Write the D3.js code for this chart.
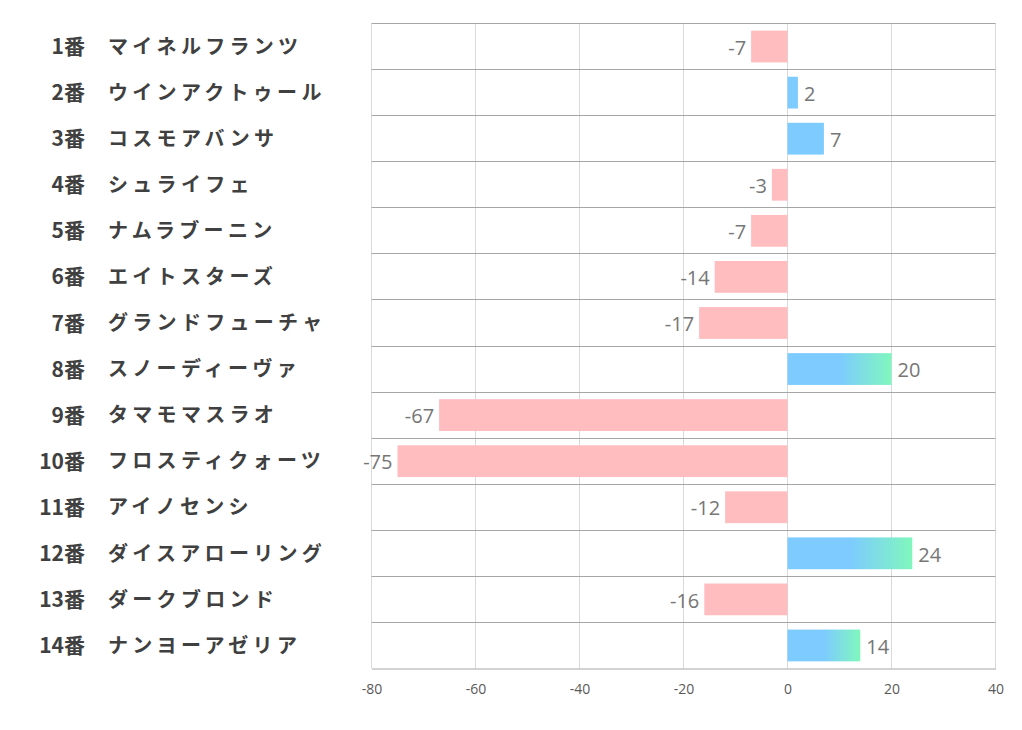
<!DOCTYPE html>
<html><head><meta charset="utf-8">
<script src="https://cdn.jsdelivr.net/npm/d3@7"></script>
<style>
body{margin:0;background:#fff;}
svg{display:block;}
</style></head>
<body><svg id="chart" width="1022" height="730"></svg>
<script>
const numbers = ["1番","2番","3番","4番","5番","6番","7番","8番","9番","10番","11番","12番","13番","14番"];
const names = ["マイネルフランツ","ウインアクトゥール","コスモアバンサ","シュライフェ","ナムラブーニン","エイトスターズ","グランドフューチャ","スノーディーヴァ","タマモマスラオ","フロスティクォーツ","アイノセンシ","ダイスアローリング","ダークブロンド","ナンヨーアゼリア"];
const values = [-7,2,7,-3,-7,-14,-17,20,-67,-75,-12,24,-16,14];
const xTicks = [-80,-60,-40,-20,0,20,40];

(function(){
const svg = d3.select("#chart");
const pL = 371.5, pR = 995.5, pT = 23.5, pB = 668.5;
const x = d3.scaleLinear().domain([-80,40]).range([pL,pR]);
const y = d3.scaleBand().domain(d3.range(values.length)).range([pT,pB]).paddingInner(0.31).paddingOuter(0.155);
const band = d3.scaleBand().domain(d3.range(values.length)).range([pT,pB]);

const defs = svg.append("defs");
const g = defs.append("linearGradient").attr("id","grad").attr("x1","0").attr("x2","1").attr("y1","0").attr("y2","0");
g.append("stop").attr("offset","0.5").attr("stop-color","#7dcbff");
g.append("stop").attr("offset","1").attr("stop-color","#80f7bd");

// vertical gridlines
svg.append("g").selectAll("line").data(xTicks).join("line")
  .attr("x1",d=>x(d)).attr("x2",d=>x(d)).attr("y1",pT).attr("y2",pB)
  .attr("stroke","#d9d9d9").attr("stroke-width",1);

// horizontal gridlines
const hl = d3.range(values.length).map(i=>band(i));
svg.append("g").selectAll("line").data(hl).join("line")
  .attr("x1",pL).attr("x2",pR).attr("y1",d=>Math.round(d-0.5)+0.5).attr("y2",d=>Math.round(d-0.5)+0.5)
  .attr("stroke","#a6a6a6").attr("stroke-width",1);

// bars
svg.append("g").selectAll("rect").data(values).join("rect")
  .attr("x",d=>x(Math.min(0,d)))
  .attr("width",d=>Math.abs(x(d)-x(0)))
  .attr("y",(d,i)=>y(i))
  .attr("height",y.bandwidth())
  .attr("fill",d=>d<0?"#ffbdc0":(d>=10?"url(#grad)":"#7dcbff"));

// bottom axis
const axis = svg.append("g").attr("transform",`translate(0,${pB})`)
  .call(d3.axisBottom(x).tickValues(xTicks).tickSize(0).tickPadding(16).tickFormat(d=>String(d)));
axis.select(".domain").attr("stroke","#a6a6a6");
axis.selectAll("text").attr("font-family","'Open Sans', 'Noto Sans', sans-serif").attr("font-size","14px").attr("fill","#595959");

// value labels
svg.append("g").selectAll("text").data(values).join("text")
  .attr("x",d=>d<0? x(d)-5 : x(d)+6)
  .attr("y",(d,i)=>y(i)+y.bandwidth()/2+1)
  .attr("dy","0.36em")
  .attr("text-anchor",d=>d<0?"end":"start")
  .attr("font-family","'Open Sans', 'Noto Sans', sans-serif")
  .attr("font-size","20px")
  .attr("fill","#767676")
  .text(d=>String(d));

// category labels
const lab = svg.append("g");
lab.selectAll("text.num").data(numbers).join("text").attr("class","num")
  .attr("x",85).attr("y",(d,i)=>y(i)+y.bandwidth()/2).attr("dy","0.36em")
  .attr("text-anchor","end")
  .attr("font-family","'Noto Sans CJK JP', sans-serif").attr("font-weight","bold")
  .attr("font-size","21px").attr("fill","#404040").text(d=>d);
lab.selectAll("text.name").data(names).join("text").attr("class","name")
  .attr("x",108).attr("y",(d,i)=>y(i)+y.bandwidth()/2).attr("dy","0.36em")
  .attr("font-family","'Noto Sans CJK JP', sans-serif").attr("font-weight","bold")
  .attr("font-size","20px").attr("letter-spacing","4.3px").attr("fill","#404040").text(d=>d);
})();
</script></body></html>
